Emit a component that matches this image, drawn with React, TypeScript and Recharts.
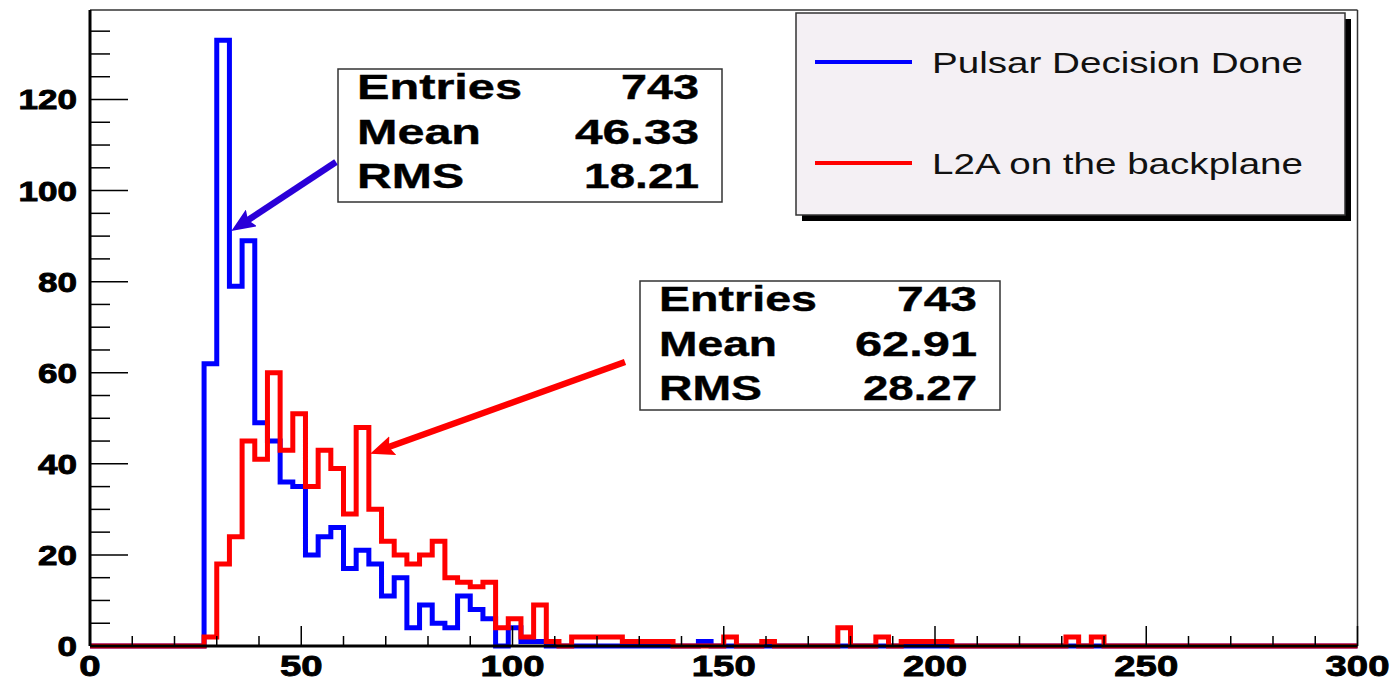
import React from 'react';
import { LineChart, Line, XAxis, YAxis, ReferenceLine } from 'recharts';

// Histogram: 100 bins of width 3 over [0, 300)
const BIN_WIDTH = 3;
const X_MAX = 300;
const Y_MAX = 139.65;

const pulsarCounts = [
  0, 0, 0, 0, 0, 0, 0, 0, 0, 62,
  133, 79, 89, 49, 45, 36, 35, 20, 24, 26,
  17, 21, 18, 11, 15, 4, 9, 5, 4, 11,
  8, 6, 0, 4, 1, 1, 0, 0, 0, 0,
  0, 0, 0, 0, 0, 0, 0, 0, 1, 0,
  0, 0, 0, 0, 0, 0, 0, 0, 0, 0,
  0, 0, 0, 0, 0, 0, 0, 0, 0, 0,
  0, 0, 0, 0, 0, 0, 0, 0, 0, 0,
  0, 0, 0, 0, 0, 0, 0, 0, 0, 0,
  0, 0, 0, 0, 0, 0, 0, 0, 0, 0,
];

const l2aCounts = [
  0, 0, 0, 0, 0, 0, 0, 0, 0, 2,
  18, 24, 45, 41, 60, 43, 51, 35, 43, 39,
  29, 48, 30, 23, 20, 18, 20, 23, 15, 14,
  13, 14, 4, 6, 2, 9, 1, 0, 2, 2,
  2, 2, 1, 1, 1, 1, 0, 0, 0, 0,
  2, 0, 0, 1, 0, 0, 0, 0, 0, 4,
  0, 0, 2, 0, 1, 1, 1, 1, 0, 0,
  0, 0, 0, 0, 0, 0, 0, 2, 0, 2,
  0, 0, 0, 0, 0, 0, 0, 0, 0, 0,
  0, 0, 0, 0, 0, 0, 0, 0, 0, 0,
];

const xTicks = [0, 10, 20, 30, 40, 50, 60, 70, 80, 90, 100, 110, 120, 130, 140, 150, 160, 170, 180, 190, 200, 210, 220, 230, 240, 250, 260, 270, 280, 290, 300];
const xMajor = [0, 50, 100, 150, 200, 250, 300];
const yTicks = [0, 5, 10, 15, 20, 25, 30, 35, 40, 45, 50, 55, 60, 65, 70, 75, 80, 85, 90, 95, 100, 105, 110, 115, 120, 125, 130, 135];
const yMajor = [0, 20, 40, 60, 80, 100, 120];

const seriesNames = ['Pulsar Decision Done', 'L2A on the backplane'];
const statsPulsar = [['Entries', '743'], ['Mean', '46.33'], ['RMS', '18.21']];
const statsL2A = [['Entries', '743'], ['Mean', '62.91'], ['RMS', '28.27']];

const rows = pulsarCounts
  .map((_, i) => i * BIN_WIDTH)
  .concat([X_MAX])
  .map((x, i) => ({
    x,
    pulsar: pulsarCounts[Math.min(i, pulsarCounts.length - 1)],
    l2a: l2aCounts[Math.min(i, l2aCounts.length - 1)],
  }));

const FONT = '"Liberation Sans", Arial, Helvetica, sans-serif';

const YTick = (props: any) => {
  const { x, y, payload } = props;
  const v = payload.value;
  const major = yMajor.includes(v);
  const s = String(v);
  return (
    <g>
      <line x1={x} x2={x + (major ? 38 : 20)} y1={y} y2={y} stroke="#000" strokeWidth={1.5} />
      {major && (
        <text
          x={x - 13}
          y={y + 10}
          textAnchor="end"
          fontFamily={FONT}
          fontWeight="bold"
          fontSize={28}
          textLength={19.5 * s.length}
          lengthAdjust="spacingAndGlyphs"
          fill="#000"
          stroke="#000"
          strokeWidth={0.9}
        >
          {s}
        </text>
      )}
    </g>
  );
};

const XTick = (props: any) => {
  const { x, y, payload } = props;
  const v = payload.value;
  const major = xMajor.includes(v);
  const s = String(v);
  return (
    <g>
      <line x1={x} x2={x} y1={y} y2={y - (major ? 20 : 10)} stroke="#000" strokeWidth={1.5} />
      {major && (
        <text
          x={x}
          y={y + 30}
          textAnchor="middle"
          fontFamily={FONT}
          fontWeight="bold"
          fontSize={30}
          textLength={21.3 * s.length}
          lengthAdjust="spacingAndGlyphs"
          fill="#000"
          stroke="#000"
          strokeWidth={0.9}
        >
          {s}
        </text>
      )}
    </g>
  );
};

const StatsBox = ({ left, top, width, height, stats, labelWidths, valueWidths }: any) => (
  <g>
    <rect x={left} y={top} width={width} height={height} fill="#fff" stroke="#333" strokeWidth={1.5} />
    {stats.map((row: string[], i: number) => (
      <g key={row[0]}>
        <text
          x={left + 19}
          y={top + 30 + i * 44.5}
          fontFamily={FONT}
          fontWeight="bold"
          fontSize={35}
          textLength={labelWidths[i]}
          lengthAdjust="spacingAndGlyphs"
          fill="#000"
          stroke="#000"
          strokeWidth={0.4}
        >
          {row[0]}
        </text>
        <text
          x={left + width - 23}
          y={top + 30 + i * 44.5}
          textAnchor="end"
          fontFamily={FONT}
          fontWeight="bold"
          fontSize={35}
          textLength={valueWidths[i]}
          lengthAdjust="spacingAndGlyphs"
          fill="#000"
          stroke="#000"
          strokeWidth={0.4}
        >
          {row[1]}
        </text>
      </g>
    ))}
  </g>
);

const Arrow = ({ from, tip, color, id }: any) => {
  const dx = tip[0] - from[0];
  const dy = tip[1] - from[1];
  const len = Math.sqrt(dx * dx + dy * dy);
  const ux = dx / len;
  const uy = dy / len;
  const end = [tip[0] - ux * 14, tip[1] - uy * 14];
  return (
    <g>
      <defs>
        <marker id={id} markerUnits="userSpaceOnUse" markerWidth={26} markerHeight={20} refX={8} refY={10} orient="auto">
          <path d="M0,0 L24,10 L0,20 L4,10 z" fill={color} />
        </marker>
      </defs>
      <line x1={from[0]} y1={from[1]} x2={end[0]} y2={end[1]} stroke={color} strokeWidth={6.5} markerEnd={`url(#${id})`} />
    </g>
  );
};

export default function App() {
  return (
    <div style={{ position: 'absolute', left: 0, top: 0, width: 1392, height: 681, background: '#fff' }}>
      <LineChart width={1392} height={681} data={rows} margin={{ top: 10, right: 34.5, bottom: 0, left: 0 }}>
        <XAxis
          type="number"
          dataKey="x"
          domain={[0, X_MAX]}
          ticks={xTicks}
          interval={0}
          tick={XTick}
          tickLine={false}
          tickSize={0}
          tickMargin={0}
          height={35}
          axisLine={{ stroke: '#000', strokeWidth: 3 }}
        />
        <YAxis
          type="number"
          domain={[0, Y_MAX]}
          ticks={yTicks}
          interval={0}
          tick={YTick}
          tickLine={false}
          tickSize={0}
          tickMargin={0}
          width={90}
          axisLine={{ stroke: '#000', strokeWidth: 3 }}
        />
        <ReferenceLine y={Y_MAX} stroke="#333" strokeWidth={1.5} />
        <ReferenceLine x={X_MAX} stroke="#333" strokeWidth={1.5} />
        <Line
          type="stepAfter"
          dataKey="pulsar"
          name={seriesNames[0]}
          stroke="#0000ff"
          strokeWidth={5}
          dot={false}
          activeDot={false}
          strokeLinejoin="miter"
          isAnimationActive={false}
        />
        <Line
          type="stepAfter"
          dataKey="l2a"
          name={seriesNames[1]}
          stroke="#ff0000"
          strokeWidth={5}
          dot={false}
          activeDot={false}
          strokeLinejoin="miter"
          isAnimationActive={false}
        />
      </LineChart>
      <svg width={1392} height={681} style={{ position: 'absolute', left: 0, top: 0, pointerEvents: 'none' }}>
        {/* Legend */}
        <rect x={802} y={19} width={549} height={202} fill="#000" />
        <rect x={796} y={13} width={549} height={202} fill="#f4f0f4" stroke="#333" strokeWidth={1.5} />
        <line x1={815} x2={912} y1={62} y2={62} stroke="#0000ff" strokeWidth={4} />
        <text x={932} y={73} fontFamily={FONT} fontSize={30} textLength={371} lengthAdjust="spacingAndGlyphs" fill="#111">
          {seriesNames[0]}
        </text>
        <line x1={815} x2={912} y1={163} y2={163} stroke="#ff0000" strokeWidth={4} />
        <text x={932} y={174} fontFamily={FONT} fontSize={30} textLength={371} lengthAdjust="spacingAndGlyphs" fill="#111">
          {seriesNames[1]}
        </text>
        {/* Stats boxes */}
        <StatsBox left={338} top={69} width={384} height={133} stats={statsPulsar} labelWidths={[165, 124, 107]} valueWidths={[78, 124, 115]} />
        <StatsBox left={640} top={281} width={360} height={129} stats={statsL2A} labelWidths={[158, 118, 103]} valueWidths={[80, 122, 114]} />
        <Arrow from={[336, 162]} tip={[233, 230]} color="#2a00d8" id="arrowBlue" />
        <Arrow from={[625, 362]} tip={[372, 453]} color="#ff0000" id="arrowRed" />
      </svg>
    </div>
  );
}
